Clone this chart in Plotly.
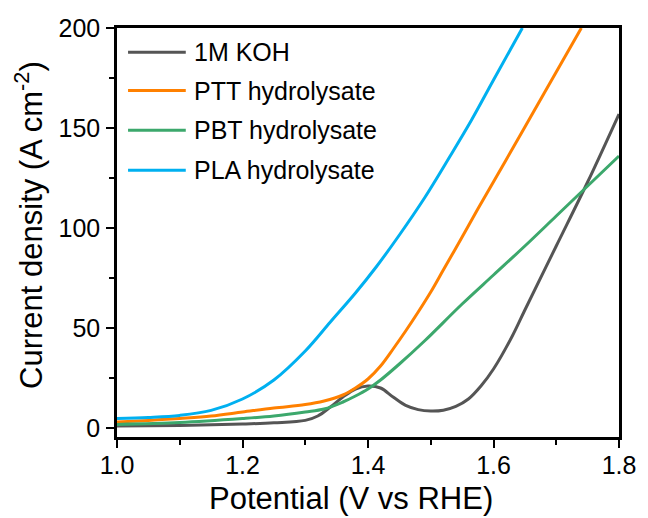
import plotly.graph_objects as go

# ---- data ----
koh_v = [1.0, 1.1, 1.2, 1.25, 1.3, 1.32, 1.34, 1.36, 1.38, 1.40, 1.42, 1.44, 1.46, 1.48, 1.50,
         1.52, 1.54, 1.56, 1.58, 1.60, 1.63, 1.65, 1.70, 1.75, 1.80]
koh_j = [1.0, 1.3, 2.0, 2.6, 3.8, 6.0, 10.5, 15.5, 19.5, 21.0, 20.0, 15.5, 11.3, 9.2, 8.5,
         8.9, 10.8, 14.5, 21.0, 29.5, 46.0, 59.0, 91.0, 123.0, 157.0]

ptt_v = [1.0, 1.05, 1.1, 1.15, 1.2, 1.25, 1.3, 1.33, 1.36, 1.38, 1.40, 1.42, 1.44, 1.46, 1.48,
         1.50, 1.52, 1.55, 1.575, 1.62, 1.66, 1.70, 1.74]
ptt_j = [3.0, 3.8, 4.8, 6.0, 8.0, 10.0, 11.7, 13.5, 16.5, 20.0, 24.5, 31.0, 39.5, 48.5, 58.0,
         68.0, 79.0, 95.5, 109.5, 134.0, 156.0, 178.0, 200.0]

pbt_v = [1.0, 1.1, 1.2, 1.25, 1.3, 1.33, 1.36, 1.38, 1.40, 1.42, 1.45, 1.49, 1.55, 1.60, 1.65,
         1.70, 1.75, 1.80]
pbt_j = [1.8, 2.7, 4.7, 6.0, 8.0, 9.5, 13.0, 16.0, 19.5, 24.0, 32.0, 43.5, 62.0, 76.5, 91.0,
         106.0, 121.0, 136.0]

pla_v = [1.0, 1.05, 1.1, 1.15, 1.2, 1.25, 1.3, 1.34, 1.38, 1.413, 1.45, 1.49, 1.53, 1.565, 1.60,
         1.646]
pla_j = [4.8, 5.3, 6.3, 8.8, 14.5, 24.0, 38.5, 53.0, 67.5, 80.5, 96.5, 115.0, 135.5, 154.0,
         174.0, 200.0]

names = ["1M KOH", "PTT hydrolysate", "PBT hydrolysate", "PLA hydrolysate"]
colors = ["#555555", "#FF8000", "#3CA86C", "#00B0F0"]
series = [(koh_v, koh_j), (ptt_v, ptt_j), (pbt_v, pbt_j), (pla_v, pla_j)]

x_range = [1.0, 1.8]
y_range = [-4.5, 200]

FONT = "Arial, Liberation Sans, sans-serif"

fig = go.Figure()
for (v, j), name, c in zip(series, names, colors):
    fig.add_trace(go.Scatter(x=v, y=j, mode="lines", name=name,
                             line=dict(color=c, width=3, shape="spline", smoothing=1.0),
                             showlegend=False))

# manual legend (long sample lines like the reference)
leg_y = [0.941, 0.847, 0.750, 0.652]
for name, c, yy in zip(names, colors, leg_y):
    fig.add_shape(type="line", xref="paper", yref="paper",
                  x0=0.022, x1=0.137, y0=yy, y1=yy,
                  line=dict(color=c, width=3))
    fig.add_annotation(xref="paper", yref="paper", x=0.150, y=yy, text=name,
                       showarrow=False, xanchor="left", yanchor="middle",
                       font=dict(family=FONT, size=25, color="black"))

axis_common = dict(
    showline=True, linecolor="black", linewidth=2.5, mirror=True,
    ticks="outside", ticklen=8, tickwidth=2, tickcolor="black",
    showgrid=False, zeroline=False,
    tickfont=dict(family=FONT, size=25, color="black"),
)

fig.update_xaxes(range=x_range, dtick=0.2, tick0=1.0, tickformat=".1f",
                 ticklabelstandoff=-4,
                 minor=dict(dtick=0.1, ticks="outside", ticklen=5, tickwidth=2,
                            tickcolor="black", showgrid=False),
                 **axis_common)
fig.update_yaxes(range=y_range, dtick=50, tick0=0, ticklabelstandoff=1,
                 minor=dict(dtick=25, ticks="outside", ticklen=5, tickwidth=2,
                            tickcolor="black", showgrid=False),
                 **axis_common)

# axis titles
fig.add_annotation(xref="paper", yref="paper", x=0.466, y=-0.150,
                   text="Potential (V vs RHE)", showarrow=False,
                   xanchor="center", yanchor="middle",
                   font=dict(family=FONT, size=31, color="black"))
fig.add_annotation(xref="paper", yref="paper", x=-0.174, y=0.5176,
                   text="Current density (A cm<sup>-2</sup>)", showarrow=False,
                   textangle=-90, xanchor="center", yanchor="middle",
                   font=dict(family=FONT, size=31, color="black"))

fig.update_layout(
    width=648, height=518,
    margin=dict(l=117, r=22, t=28, b=81),
    paper_bgcolor="white", plot_bgcolor="white",
    showlegend=False,
)

fig.write_html("out.html")
